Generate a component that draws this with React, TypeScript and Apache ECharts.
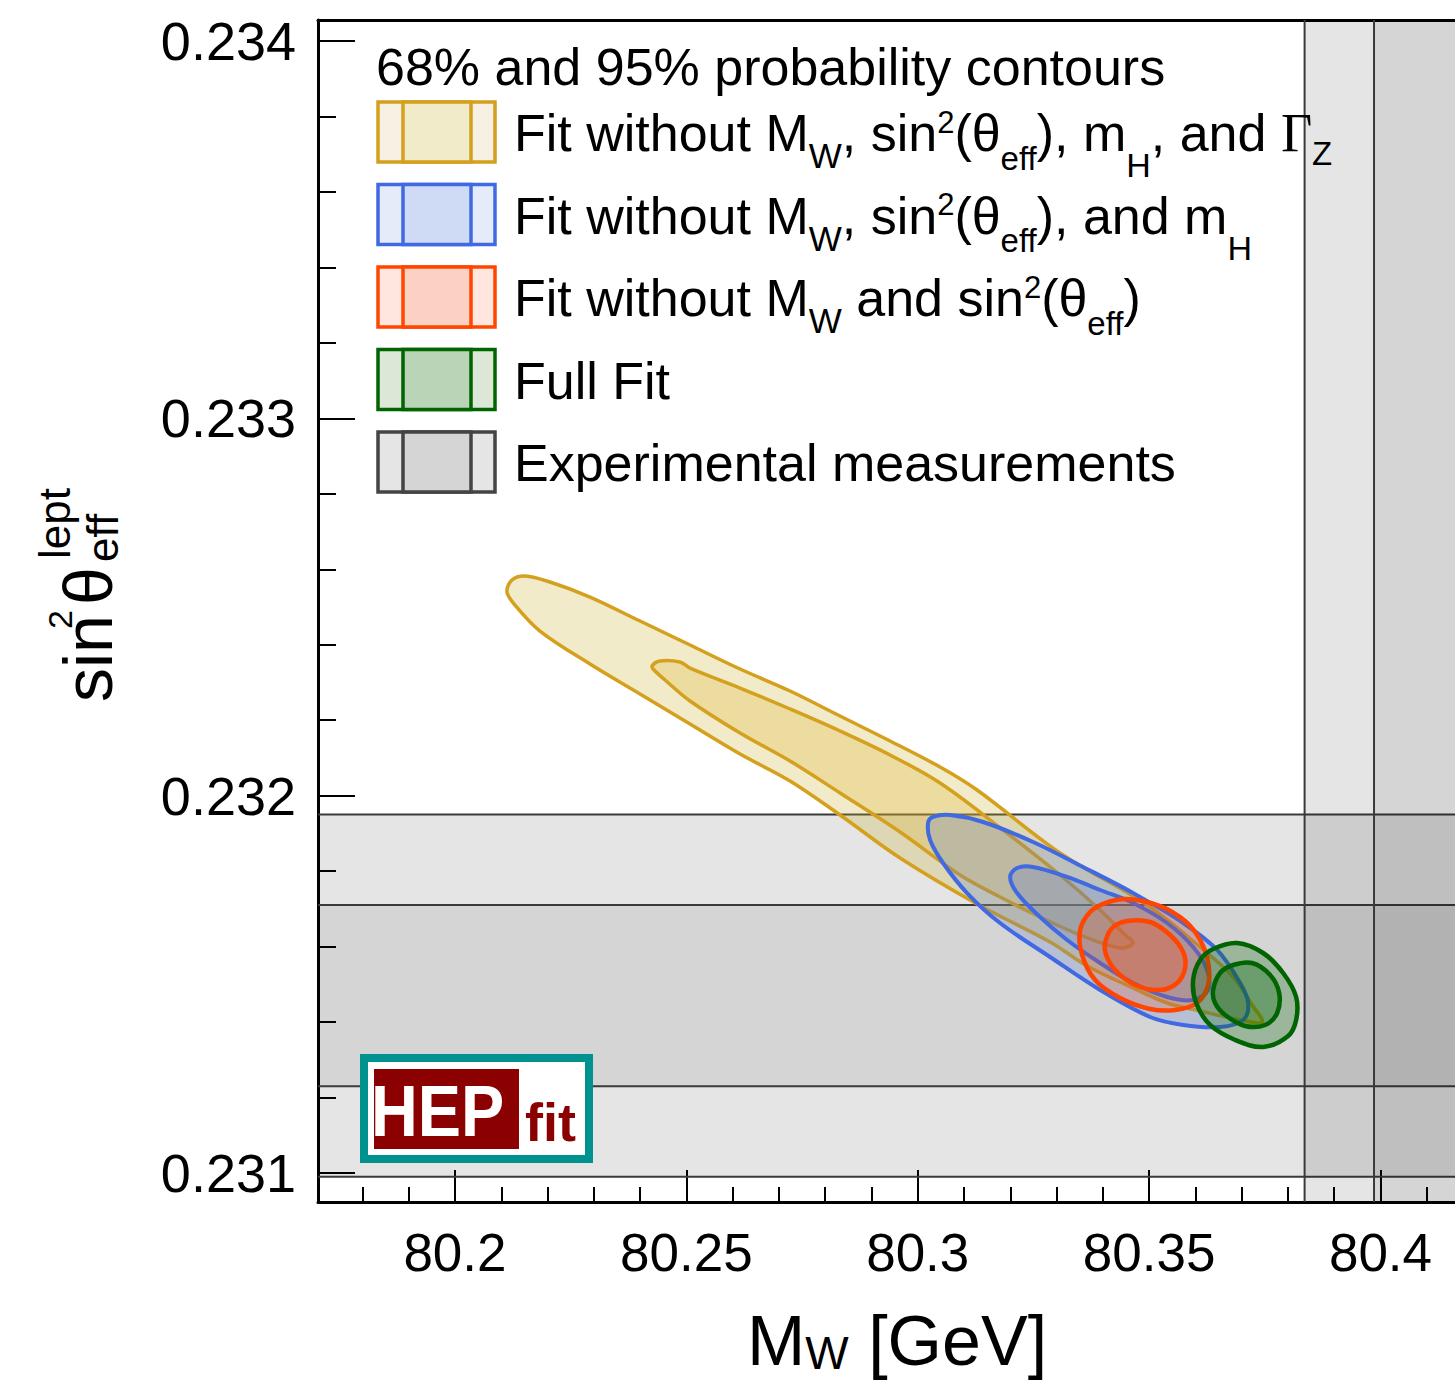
import React, { useEffect, useRef } from "react";
import * as echarts from "echarts";

const FONT = "Liberation Sans";
const SERIF = "Liberation Serif";

const X_MIN = 80.1704;
const X_MAX = 80.4161;
const Y_MIN = 0.230923;
const Y_MAX = 0.234056;

const xMajorTicks = [80.2, 80.25, 80.3, 80.35, 80.4];
const xTickLabels = ["80.2", "80.25", "80.3", "80.35", "80.4"];
const xMinorTicks = [80.18, 80.19, 80.21, 80.22, 80.23, 80.24, 80.26, 80.27, 80.28, 80.29, 80.31, 80.32, 80.33, 80.34, 80.36, 80.37, 80.38, 80.39, 80.41];
const yMajorTicks = [0.231, 0.232, 0.233, 0.234];
const yTickLabels = ["0.231", "0.232", "0.233", "0.234"];
const yMinorTicks = [0.2312, 0.2314, 0.2316, 0.2318, 0.2322, 0.2324, 0.2326, 0.2328, 0.2332, 0.2334, 0.2336, 0.2338];

// Experimental measurements (central value, 1 sigma)
const mwMeas = 80.4136;
const mwErr = 0.015;
const s2Meas = 0.23147;
const s2Err = 0.00024;

// Contours [M_W, sin2theta]
const noMwS2MhGz95 = [
  [80.21124, 0.2325397], [80.21232, 0.2325716], [80.21513, 0.2325822], [80.22053, 0.2325663],
  [80.22918, 0.2325265], [80.23999, 0.2324629], [80.25079, 0.2323993], [80.2616, 0.2323357],
  [80.27241, 0.2322774], [80.28321, 0.2322111], [80.29402, 0.2321449], [80.30483, 0.232076],
  [80.31282, 0.232015], [80.33076, 0.2318481], [80.34957, 0.2317102], [80.36102, 0.2315989],
  [80.36815, 0.2315194], [80.37226, 0.2314452], [80.37442, 0.2314002], [80.36967, 0.2314055],
  [80.36102, 0.2314293], [80.35389, 0.2314505], [80.34654, 0.2314903], [80.3366, 0.2315486],
  [80.3286, 0.2316122], [80.31282, 0.2317129], [80.29618, 0.2318348], [80.28321, 0.2319488],
  [80.27241, 0.2320389], [80.2616, 0.2321104], [80.25079, 0.2321899], [80.23999, 0.2322694],
  [80.22918, 0.2323489], [80.21837, 0.2324364], [80.21297, 0.2325053],
];
const noMwS2MhGz68 = [
  [80.24258, 0.2323436], [80.24431, 0.2323569], [80.24863, 0.2323542], [80.25079, 0.2323383],
  [80.2616, 0.2322853], [80.27241, 0.2322297], [80.28321, 0.2321714], [80.29402, 0.2321078],
  [80.30483, 0.2320336], [80.31844, 0.231909], [80.33076, 0.2317898], [80.33941, 0.231697],
  [80.34481, 0.2316307], [80.34654, 0.2316095], [80.34373, 0.2315963], [80.33509, 0.2316307],
  [80.32644, 0.2316784], [80.31779, 0.2317315], [80.30915, 0.2317898], [80.29618, 0.2319037],
  [80.28321, 0.2320071], [80.27241, 0.2320919], [80.2616, 0.2321661], [80.25079, 0.2322509],
  [80.24539, 0.2323065], [80.24301, 0.232333],
];
const noMwS2Mh95 = [
  [80.30223, 0.2319276], [80.30331, 0.2319435], [80.30699, 0.2319488], [80.31412, 0.2319302],
  [80.32493, 0.2318772], [80.33573, 0.231811], [80.34654, 0.231742], [80.35735, 0.2316625],
  [80.3647, 0.231591], [80.36967, 0.2315035], [80.3714, 0.2314505], [80.37032, 0.2314055],
  [80.36534, 0.2313869], [80.35735, 0.2313922], [80.35022, 0.2314134], [80.33941, 0.231485],
  [80.3286, 0.2315724], [80.31779, 0.2316625], [80.31066, 0.231742], [80.30547, 0.2318216],
  [80.30267, 0.2318825],
];
const noMwS2Mh68 = [
  [80.31996, 0.2317845], [80.32147, 0.2318083], [80.32493, 0.231811], [80.33228, 0.2317845],
  [80.33941, 0.23175], [80.34654, 0.2317155], [80.35389, 0.2316625], [80.35951, 0.2315989],
  [80.36254, 0.231538], [80.36275, 0.231485], [80.35951, 0.2314585], [80.35389, 0.2314664],
  [80.34654, 0.2315035], [80.33941, 0.2315565], [80.33228, 0.2316175], [80.32644, 0.2316784],
  [80.32147, 0.231742],
];
const noMwS295 = [
  [80.33509, 0.231644], [80.33725, 0.2316917], [80.34049, 0.2317155], [80.34524, 0.2317261],
  [80.35238, 0.2317076], [80.35778, 0.2316678], [80.36102, 0.2316175], [80.36275, 0.2315592],
  [80.36275, 0.2314982], [80.36037, 0.2314505], [80.35562, 0.231432], [80.35022, 0.2314346],
  [80.34373, 0.2314638], [80.33833, 0.2315115], [80.33552, 0.2315777],
];
const noMwS268 = [
  [80.34049, 0.2316095], [80.342, 0.2316493], [80.34524, 0.2316678], [80.35022, 0.2316652],
  [80.35454, 0.2316307], [80.35735, 0.2315857], [80.35778, 0.2315433], [80.35605, 0.2315035],
  [80.35238, 0.231485], [80.34697, 0.2314982], [80.34265, 0.231538], [80.34071, 0.2315777],
];
const fullFit95 = [
  [80.35951, 0.2315115], [80.36102, 0.2315645], [80.36383, 0.2315936], [80.36902, 0.2316095],
  [80.37464, 0.231583], [80.37896, 0.23153], [80.38177, 0.2314664], [80.38177, 0.2314055],
  [80.38004, 0.2313631], [80.37464, 0.2313339], [80.36859, 0.2313525], [80.36318, 0.2313922],
  [80.36016, 0.2314505],
];
const fullFit68 = [
  [80.36383, 0.231485], [80.36534, 0.23153], [80.36815, 0.2315512], [80.37226, 0.2315565],
  [80.37615, 0.2315247], [80.3781, 0.231477], [80.37767, 0.231424], [80.37507, 0.2313922],
  [80.37075, 0.2313896], [80.36643, 0.2314187], [80.36426, 0.2314505],
];

const YELLOW = "#D4A01E";
const BLUE = "#4169E1";
const RED = "#FF4500";
const GREEN = "#006400";
const GRAY = "#444444";

const contours = [
  { name: "noMwS2MhGz95", pts: noMwS2MhGz95, fill: "rgba(200,175,40,0.25)", stroke: YELLOW, width: 3.5 },
  { name: "noMwS2MhGz68", pts: noMwS2MhGz68, fill: "rgba(228,175,40,0.25)", stroke: YELLOW, width: 3.5 },
  { name: "noMwS2Mh95", pts: noMwS2Mh95, fill: "rgba(65,105,225,0.2)", stroke: BLUE, width: 4 },
  { name: "noMwS2Mh68", pts: noMwS2Mh68, fill: "rgba(65,105,225,0.2)", stroke: BLUE, width: 4 },
  { name: "noMwS295", pts: noMwS295, fill: "rgba(255,69,0,0.2)", stroke: RED, width: 4.5 },
  { name: "noMwS268", pts: noMwS268, fill: "rgba(255,69,0,0.25)", stroke: RED, width: 4.5 },
  { name: "fullFit95", pts: fullFit95, fill: "rgba(0,100,0,0.27)", stroke: GREEN, width: 4.5 },
  { name: "fullFit68", pts: fullFit68, fill: "rgba(0,100,0,0.3)", stroke: GREEN, width: 4.5 },
];

const legendRows = [
  { text: "{m|Fit without M}{w|W}{m|, sin}{s|2}{m|(θ}{e|eff}{m|), m}{h|H}{m|, and }{g|Γ}{z|Z}", stroke: YELLOW, outer: "#F7F1E4", inner: "#F1EBC9" },
  { text: "{m|Fit without M}{w|W}{m|, sin}{s|2}{m|(θ}{e|eff}{m|), and m}{h|H}", stroke: BLUE, outer: "#E6EBFA", inner: "#CFDAF5" },
  { text: "{m|Fit without M}{w|W}{m| and sin}{s|2}{m|(θ}{e|eff}{m|)}", stroke: RED, outer: "#FFE7E0", inner: "#FBD1C3" },
  { text: "{m|Full Fit}", stroke: GREEN, outer: "#DCE7D7", inner: "#B9D4B6" },
  { text: "{m|Experimental measurements}", stroke: GRAY, outer: "#E5E5E5", inner: "#D5D5D5" },
];

const bandsData = [
  [X_MIN, X_MAX, s2Meas - 2 * s2Err, s2Meas + 2 * s2Err, 0],
  [X_MIN, X_MAX, s2Meas - s2Err, s2Meas + s2Err, 1],
  [mwMeas - 2 * mwErr, mwMeas + 2 * mwErr, Y_MIN, Y_MAX, 0],
  [mwMeas - mwErr, mwMeas + mwErr, Y_MIN, Y_MAX, 1],
];

function labelFor(values: number[], labels: string[], v: number) {
  let best = 0;
  for (let i = 1; i < values.length; i++) {
    if (Math.abs(values[i] - v) < Math.abs(values[best] - v)) best = i;
  }
  return labels[best];
}

const LH = 64;
const legendRich: any = {
  m: { fontSize: 52, fontFamily: FONT, fill: "#000" },
  g: { fontSize: 54, fontFamily: SERIF, fill: "#000" },
  w: { fontSize: 35, fontFamily: FONT, fill: "#000", verticalAlign: "top", height: LH + 45 },
  e: { fontSize: 33, fontFamily: FONT, fill: "#000", verticalAlign: "top", height: LH + 50 },
  h: { fontSize: 34, fontFamily: FONT, fill: "#000", verticalAlign: "top", height: LH + 64 },
  z: { fontSize: 33, fontFamily: FONT, fill: "#000", verticalAlign: "top", height: LH + 41 },
  s: { fontSize: 31, fontFamily: FONT, fill: "#000", verticalAlign: "top", height: LH - 22 },
};

export default function App() {
  const ref = useRef<HTMLDivElement>(null);

  useEffect(() => {
    if (!ref.current) return;
    const chart = echarts.init(ref.current, undefined, { renderer: "svg" });

    const graphics: any[] = [];
    graphics.push({
      type: "text", x: 376, y: 67, z: 100,
      style: { text: "68% and 95% probability contours", fontSize: 52, fontFamily: FONT, fill: "#000", align: "left", verticalAlign: "middle" },
    });
    legendRows.forEach((r, k) => {
      const top = 102 + 82.5 * k;
      graphics.push({
        type: "rect", z: 100,
        shape: { x: 378, y: top, width: 117, height: 60 },
        style: { fill: r.outer, stroke: r.stroke, lineWidth: 3.5 },
      });
      graphics.push({
        type: "rect", z: 100,
        shape: { x: 403, y: top, width: 68, height: 60 },
        style: { fill: r.inner, stroke: r.stroke, lineWidth: 3.5 },
      });
      graphics.push({
        type: "text", x: 514, y: top + 31, z: 100,
        style: { text: r.text, rich: legendRich, fontSize: 52, fontFamily: FONT, fill: "#000", lineHeight: LH, align: "left", verticalAlign: "middle" },
      });
    });
    // HEPfit logo
    graphics.push({
      type: "rect", z: 100,
      shape: { x: 364, y: 1058, width: 225, height: 101 },
      style: { fill: "#ffffff", stroke: "#00928F", lineWidth: 8 },
    });
    graphics.push({
      type: "rect", z: 101,
      shape: { x: 374, y: 1069, width: 145, height: 80 },
      style: { fill: "#8B0000" },
    });
    graphics.push({
      type: "text", x: 371, y: 1111, z: 102, scaleX: 0.9,
      style: { text: "HEP", fontSize: 72, fontWeight: "bold", fontFamily: FONT, fill: "#ffffff", align: "left", verticalAlign: "middle" },
    });
    graphics.push({
      type: "text", x: 525, y: 1122, z: 102,
      style: { text: "fit", fontSize: 54, fontWeight: "bold", fontFamily: FONT, fill: "#8B0000", align: "left", verticalAlign: "middle" },
    });
    // x axis title
    graphics.push({
      type: "text", x: 747, y: 1341, z: 100,
      style: {
        text: "{m|M}{w|W}{m| [GeV]}",
        fontSize: 70, fontFamily: FONT, fill: "#000", lineHeight: 80, align: "left", verticalAlign: "middle",
        rich: {
          m: { fontSize: 70, fontFamily: FONT, fill: "#000" },
          w: { fontSize: 46, fontFamily: FONT, fill: "#000", verticalAlign: "top", height: 80 + 24 },
        },
      },
    });
    // y axis title (rotated pieces)
    const yTitle = [
      { t: "sin", x: 88, y: 702, fs: 68 },
      { t: "2", x: 60, y: 629, fs: 34 },
      { t: "θ", x: 88, y: 605, fs: 68 },
      { t: "eff", x: 102, y: 562, fs: 44 },
      { t: "lept", x: 54, y: 559, fs: 44 },
    ];
    yTitle.forEach((p) => {
      graphics.push({
        type: "text", x: p.x, y: p.y, rotation: Math.PI / 2, z: 100,
        style: { text: p.t, fontSize: p.fs, fontFamily: FONT, fill: "#000", align: "left", verticalAlign: "middle" },
      });
    });

    const series: any[] = [];
    series.push({
      type: "custom",
      name: "bands",
      xAxisIndex: 0,
      yAxisIndex: 0,
      silent: true,
      data: bandsData,
      renderItem: (params: any, api: any) => {
        const x1 = api.value(0), x2 = api.value(1), y1 = api.value(2), y2 = api.value(3), lvl = api.value(4);
        const p1 = api.coord([x1, y2]);
        const p2 = api.coord([x2, y1]);
        const cs = params.coordSys;
        const box = { x: cs.x, y: cs.y, width: cs.width, height: cs.height };
        const rect = echarts.graphic.clipRectByRect(
          { x: p1[0], y: p1[1], width: p2[0] - p1[0], height: p2[1] - p1[1] },
          box
        );
        const children: any[] = [];
        if (rect) {
          children.push({ type: "rect", shape: rect, style: { fill: lvl === 0 ? "rgba(0,0,0,0.102)" : "rgba(0,0,0,0.066)" } });
        }
        const lineStyle = { stroke: "#3a3a3a", lineWidth: 2 };
        const horizontal = x1 <= X_MIN && x2 >= X_MAX;
        if (horizontal) {
          [p1[1], p2[1]].forEach((yy) => {
            if (yy > cs.y + 1 && yy < cs.y + cs.height - 1) {
              children.push({ type: "line", shape: { x1: cs.x, y1: yy, x2: cs.x + cs.width, y2: yy }, style: lineStyle });
            }
          });
        } else {
          [p1[0], p2[0]].forEach((xx) => {
            if (xx > cs.x + 1 && xx < cs.x + cs.width - 1) {
              children.push({ type: "line", shape: { x1: xx, y1: cs.y, x2: xx, y2: cs.y + cs.height }, style: lineStyle });
            }
          });
        }
        return { type: "group", children };
      },
    });
    contours.forEach((c) => {
      series.push({
        type: "custom",
        name: c.name,
        xAxisIndex: 0,
        yAxisIndex: 0,
        silent: true,
        clip: true,
        data: c.pts,
        renderItem: (params: any, api: any) => {
          if (params.dataIndex !== 0) return null;
          const points = c.pts.map((p) => api.coord(p));
          return {
            type: "polygon",
            shape: { points, smooth: 0.35 },
            style: { fill: c.fill, stroke: c.stroke, lineWidth: c.width },
          };
        },
      });
    });

    const baseX = { type: "value", min: X_MIN, max: X_MAX, splitLine: { show: false } };
    const baseY = { type: "value", min: Y_MIN, max: Y_MAX, splitLine: { show: false } };

    chart.setOption({
      animation: false,
      backgroundColor: "#ffffff",
      grid: { left: 318, top: 20, right: 0, bottom: 178, containLabel: false },
      xAxis: [
        {
          ...baseX,
          position: "bottom",
          axisLine: { show: true, onZero: false, lineStyle: { color: "#000", width: 3 } },
          axisTick: { show: true, inside: true, length: 32, customValues: xMajorTicks, lineStyle: { color: "#000", width: 2 } },
          axisLabel: {
            show: true, customValues: xMajorTicks, margin: 24, fontSize: 53, fontFamily: FONT, color: "#000",
            formatter: (v: number) => labelFor(xMajorTicks, xTickLabels, v),
          },
        },
        {
          ...baseX,
          position: "bottom",
          axisLine: { show: false },
          axisTick: { show: true, inside: true, length: 15, customValues: xMinorTicks, lineStyle: { color: "#000", width: 2 } },
          axisLabel: { show: false },
        },
        {
          ...baseX,
          position: "top",
          axisLine: { show: true, onZero: false, lineStyle: { color: "#000", width: 3 } },
          axisTick: { show: false },
          axisLabel: { show: false },
        },
      ],
      yAxis: [
        {
          ...baseY,
          position: "left",
          axisLine: { show: true, onZero: false, lineStyle: { color: "#000", width: 3 } },
          axisTick: { show: true, inside: true, length: 37, customValues: yMajorTicks, lineStyle: { color: "#000", width: 2 } },
          axisLabel: {
            show: true, customValues: yMajorTicks, margin: 22, fontSize: 54, fontFamily: FONT, color: "#000",
            formatter: (v: number) => labelFor(yMajorTicks, yTickLabels, v),
          },
        },
        {
          ...baseY,
          position: "left",
          axisLine: { show: false },
          axisTick: { show: true, inside: true, length: 18, customValues: yMinorTicks, lineStyle: { color: "#000", width: 2 } },
          axisLabel: { show: false },
        },
      ],
      series,
      graphic: { elements: graphics },
    });

    return () => {
      chart.dispose();
    };
  }, []);

  return (
    <div
      ref={ref}
      style={{ position: "absolute", left: 0, top: 0, width: 1455, height: 1380, background: "#fff" }}
    />
  );
}
